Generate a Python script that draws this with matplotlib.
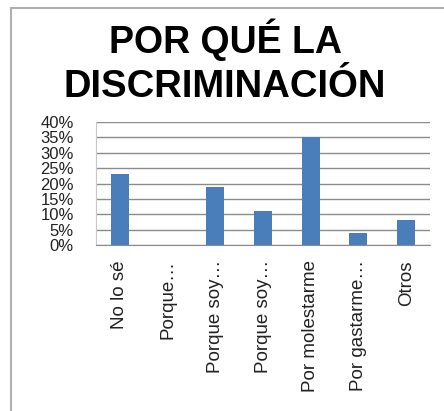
import matplotlib.pyplot as plt
from matplotlib.lines import Line2D

# data
categories = ["No lo sé", "Porque…", "Porque soy…", "Porque soy…",
              "Por molestarme", "Por gastarme…", "Otros"]
values = [23, 0, 19, 11, 35, 4, 8]
yticks = [0, 5, 10, 15, 20, 25, 30, 35, 40]
ytick_labels = ["0%", "5%", "10%", "15%", "20%", "25%", "30%", "35%", "40%"]
title_lines = ["POR QUÉ LA", "DISCRIMINACIÓN"]

plt.rcParams['font.family'] = ['Liberation Sans', 'DejaVu Sans']

W, H = 444, 411
fig = plt.figure(figsize=(W / 100, H / 100), dpi=100)

# outer frame (left and top edges only)
fig.add_artist(Line2D([11 / W, 11 / W], [0, 1 - 8 / H], color="#b0b0b0", lw=1.5))
fig.add_artist(Line2D([11 / W, 1], [1 - 8 / H, 1 - 8 / H], color="#b0b0b0", lw=1.5))

# title
fig.text(0.507, 1 - 53 / H, title_lines[0], ha="center", va="baseline",
         fontsize=27, fontweight="bold", color="black")
fig.text(0.507, 1 - 97 / H, title_lines[1], ha="center", va="baseline",
         fontsize=27.5, fontweight="bold", color="black")

ax = fig.add_axes([96 / W, 1 - 245 / H, (430 - 96) / W, (245 - 122) / H])
x = range(len(categories))
ax.bar(x, values, width=0.38, color="#4a7ebb", zorder=3)

ax.set_xlim(-0.5, len(categories) - 0.5)
ax.set_ylim(0, 40)
ax.set_yticks(yticks)
ax.set_yticklabels(ytick_labels)
ax.set_xticks(list(x))
ax.set_xticklabels(categories, rotation=90, va="top", ha="center")

ax.tick_params(axis="y", length=0, pad=16, labelsize=12, labelcolor="#222222")
ax.tick_params(axis="x", length=0, pad=11, labelsize=13.5, labelcolor="#222222")
ax.grid(axis="y", color="#8c8c8c", lw=1, zorder=0)

for s in ["top", "right"]:
    ax.spines[s].set_visible(False)
ax.spines["left"].set_color("#c8c8c8")
ax.spines["bottom"].set_color("#8c8c8c")

fig.savefig("out.png", dpi=100)
